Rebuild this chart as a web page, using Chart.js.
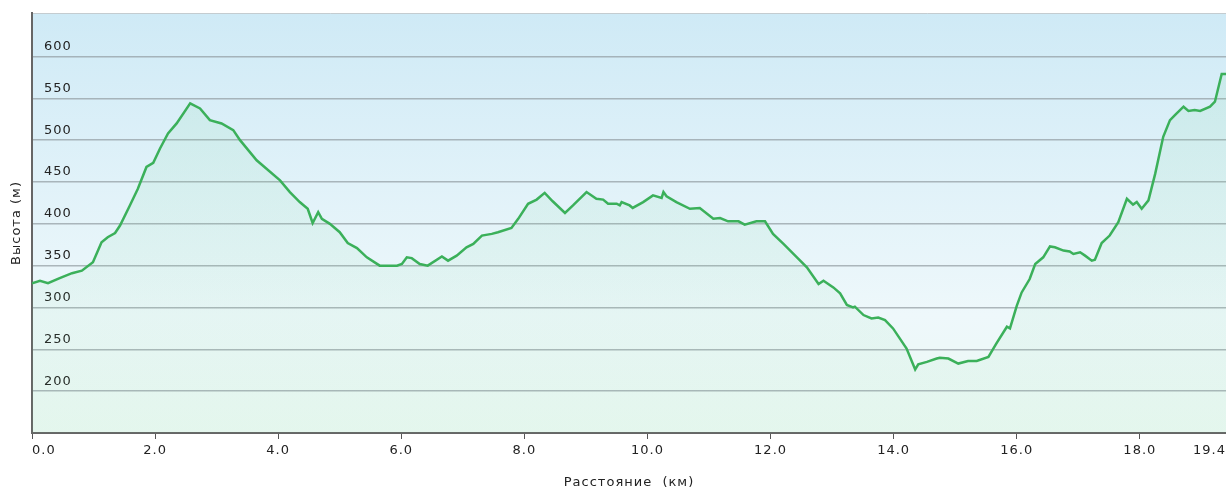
<!DOCTYPE html>
<html>
<head>
<meta charset="utf-8">
<script src="https://cdn.jsdelivr.net/npm/chart.js@4.4.1/dist/chart.umd.min.js"></script>
<style>
  html, body { margin: 0; padding: 0; background: #fff; }
  #wrap { width: 1226px; height: 490px; }
</style>
</head>
<body>
<div id="wrap"><canvas id="profile"></canvas></div>
<script>
// --- DATOS ---
const distKm = [
  0.0, 0.13, 0.26, 0.45, 0.65, 0.81, 0.99, 1.13, 1.23, 1.35, 1.43, 1.59, 1.72, 1.86, 1.97,
  2.08, 2.21, 2.35, 2.57, 2.73, 2.89, 3.08, 3.27, 3.38, 3.65, 4.03, 4.19, 4.35, 4.48, 4.56,
  4.65, 4.71, 4.84, 5.00, 5.13, 5.28, 5.44, 5.65, 5.93, 6.01, 6.09, 6.17, 6.30, 6.43, 6.66,
  6.76, 6.90, 7.06, 7.17, 7.31, 7.47, 7.57, 7.79, 7.90, 8.06, 8.20, 8.33, 8.46, 8.66, 8.79,
  9.01, 9.17, 9.28, 9.36, 9.50, 9.55, 9.58, 9.71, 9.76, 9.93, 10.09, 10.23, 10.26, 10.31, 10.47,
  10.69, 10.85, 11.07, 11.18, 11.31, 11.48, 11.58, 11.77, 11.91, 12.04, 12.21, 12.40, 12.59, 12.78,
  12.86, 13.02, 13.13, 13.24, 13.34, 13.37, 13.51, 13.64, 13.75, 13.86, 13.99, 14.21, 14.35, 14.40,
  14.54, 14.70, 14.75, 14.89, 15.05, 15.21, 15.35, 15.54, 15.67, 15.84, 15.89, 16.00, 16.08, 16.21,
  16.30, 16.43, 16.54, 16.62, 16.76, 16.86, 16.92, 17.03, 17.11, 17.22, 17.27, 17.38, 17.51, 17.65,
  17.79, 17.89, 17.95, 18.03, 18.14, 18.25, 18.38, 18.49, 18.57, 18.71, 18.79, 18.89, 18.98, 19.14,
  19.22, 19.33, 19.40
];
const altM = [
  329, 332, 329, 335, 341, 344, 354, 378, 384, 389, 398, 422, 442, 468, 473,
  490, 508, 520, 544, 538, 524, 520, 512, 500, 476, 452, 438, 426, 418, 401,
  414, 406, 400, 390, 377, 371, 360, 350, 350, 352, 360, 359, 352, 350, 361,
  356, 362, 372, 376, 386, 388, 390, 395, 406, 424, 429, 437, 427, 413, 422,
  438, 430, 429, 424, 424, 422, 426, 422, 419, 426, 434, 431, 438, 433, 426,
  418, 419, 406, 407, 403, 403, 399, 403, 403, 388, 376, 362, 348, 328,
  332, 324, 317, 303, 300, 301, 291, 287, 288, 285, 275, 251, 226, 232,
  235, 239, 240, 239, 233, 236, 236, 241, 257, 277, 275, 302, 318, 334,
  352, 360, 373, 372, 368, 367, 364, 366, 362, 356, 357, 377, 386, 402,
  430, 423, 426, 418, 428, 460, 504, 524, 530, 540, 535, 536, 535, 540,
  546, 579, 579
];
const xTicks = [0, 2, 4, 6, 8, 10, 12, 14, 16, 18, 19.4];
const yTicks = [200, 250, 300, 350, 400, 450, 500, 550, 600];

const FONT = { family: 'DejaVu Sans', size: 13 };

// --- FONDO Y BORDES ---
const fondo = {
  id: 'fondo',
  beforeDraw(chart) {
    const { ctx, chartArea: a } = chart;
    ctx.save();
    ctx.fillStyle = '#fff';
    ctx.fillRect(0, 0, chart.width, chart.height);
    const g = ctx.createLinearGradient(0, a.top, 0, a.bottom);
    g.addColorStop(0, '#cfeaf6');
    g.addColorStop(0.72, '#eef8fb');
    g.addColorStop(1, '#eaf8f2');
    ctx.fillStyle = g;
    ctx.fillRect(a.left, a.top, a.right - a.left, a.bottom - a.top);
    ctx.strokeStyle = '#c4ccd0';
    ctx.lineWidth = 1;
    ctx.beginPath();
    ctx.moveTo(a.left, a.top + 0.5);
    ctx.lineTo(a.right, a.top + 0.5);
    ctx.stroke();
    ctx.restore();
    ctx.letterSpacing = '1px';
  }
};

const ctx = document.getElementById('profile').getContext('2d');
new Chart(ctx, {
  type: 'line',
  data: {
    datasets: [{
      data: distKm.map((d, i) => ({ x: d, y: altM[i] })),
      borderColor: '#3bb05a',
      borderWidth: 2.5,
      pointRadius: 0,
      tension: 0,
      fill: 'start',
      backgroundColor: (c) => {
        const a = c.chart.chartArea;
        if (!a) return 'rgba(110,210,140,0.08)';
        const g = c.chart.ctx.createLinearGradient(0, a.top, 0, a.bottom);
        g.addColorStop(0, 'rgba(110,210,140,0.12)');
        g.addColorStop(1, 'rgba(110,210,140,0.05)');
        return g;
      }
    }]
  },
  options: {
    responsive: true,
    maintainAspectRatio: false,
    animation: false,
    layout: { padding: { top: 13, right: 0, left: 0, bottom: 0 } },
    plugins: { legend: { display: false }, tooltip: { enabled: false } },
    scales: {
      x: {
        type: 'linear',
        min: 0,
        max: 19.4,
        afterBuildTicks: (s) => { s.ticks = xTicks.map(v => ({ value: v })); },
        afterFit: (s) => { s.height = 57; s.paddingLeft = 0; s.paddingRight = 0; },
        ticks: {
          autoSkip: false,
          maxRotation: 0,
          align: 'inner',
          color: '#222',
          font: FONT,
          padding: 4,
          callback: (v) => v.toFixed(1)
        },
        grid: { drawOnChartArea: false, drawTicks: true, tickLength: 6, color: '#555' },
        border: { color: '#666', width: 2 },
        title: { display: true, text: 'Расстояние  (км)', color: '#222', font: FONT, padding: { top: 8, bottom: 0 } }
      },
      y: {
        min: 150,
        max: 652,
        afterBuildTicks: (s) => { s.ticks = yTicks.map(v => ({ value: v })); },
        afterFit: (s) => { s.width = 32; s.paddingTop = 0; s.paddingBottom = 0; },
        ticks: { mirror: true, padding: 12, labelOffset: -10, color: '#222', font: FONT },
        grid: { drawTicks: false, color: 'rgba(150,160,166,0.75)', lineWidth: 1.5 },
        border: { color: '#666', width: 2 },
        title: { display: true, text: 'Высота (м)', color: '#222', font: FONT, padding: { top: 9, bottom: 0 } }
      }
    }
  },
  plugins: [fondo]
});
</script>
</body>
</html>
